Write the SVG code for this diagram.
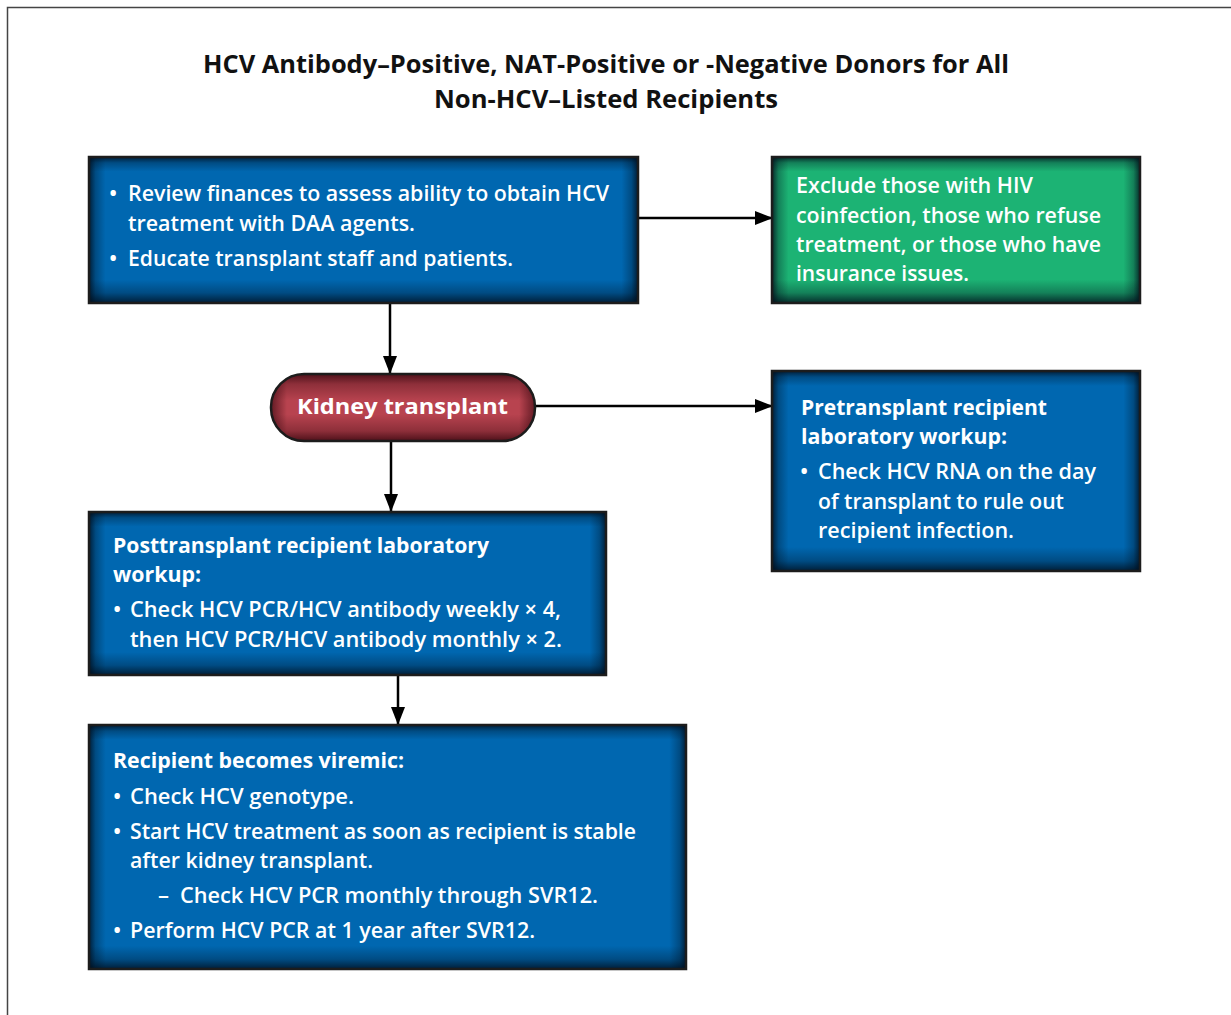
<svg xmlns="http://www.w3.org/2000/svg" width="1231" height="1015" viewBox="0 0 1231 1015">
<defs>
<style>
.t{font-family:"Open Sans","Liberation Sans",sans-serif;font-weight:600;font-size:22px;fill:#fff}
.b{font-family:"Open Sans","Liberation Sans",sans-serif;font-weight:700;font-size:22px;fill:#fff}
.title{font-family:"Open Sans","Liberation Sans",sans-serif;font-weight:700;font-size:25px;fill:#111;text-anchor:middle}
.edge{fill:none;stroke:#1c1c1c;stroke-width:2.5}
.blue{fill:#0067b0}
.green{fill:#1cb374}
.red{fill:#b8434f}
.conn{stroke:#000;stroke-width:2.5;fill:none}
.s0{stop-color:#000c1a;stop-opacity:0.8}
.s1{stop-color:#000c1a;stop-opacity:0.3}
.s2{stop-color:#000c1a;stop-opacity:0}
</style>
<!-- horizontal edge shades -->
<linearGradient id="h549" x1="0" y1="0" x2="1" y2="0"><stop offset="0" class="s0"/><stop offset="0.012" class="s1"/><stop offset="0.03" class="s2"/><stop offset="0.97" class="s2"/><stop offset="0.988" class="s1"/><stop offset="1" class="s0"/></linearGradient>
<linearGradient id="h368" x1="0" y1="0" x2="1" y2="0"><stop offset="0" class="s0"/><stop offset="0.018" class="s1"/><stop offset="0.045" class="s2"/><stop offset="0.955" class="s2"/><stop offset="0.982" class="s1"/><stop offset="1" class="s0"/></linearGradient>
<linearGradient id="h517" x1="0" y1="0" x2="1" y2="0"><stop offset="0" class="s0"/><stop offset="0.013" class="s1"/><stop offset="0.032" class="s2"/><stop offset="0.968" class="s2"/><stop offset="0.987" class="s1"/><stop offset="1" class="s0"/></linearGradient>
<linearGradient id="h597" x1="0" y1="0" x2="1" y2="0"><stop offset="0" class="s0"/><stop offset="0.011" class="s1"/><stop offset="0.028" class="s2"/><stop offset="0.972" class="s2"/><stop offset="0.989" class="s1"/><stop offset="1" class="s0"/></linearGradient>
<!-- vertical edge shades -->
<linearGradient id="v146" x1="0" y1="0" x2="0" y2="1"><stop offset="0" class="s0"/><stop offset="0.04" class="s1"/><stop offset="0.1" class="s2"/><stop offset="0.84" class="s2"/><stop offset="0.93" class="s1"/><stop offset="1" class="s0"/></linearGradient>
<linearGradient id="v200" x1="0" y1="0" x2="0" y2="1"><stop offset="0" class="s0"/><stop offset="0.03" class="s1"/><stop offset="0.075" class="s2"/><stop offset="0.88" class="s2"/><stop offset="0.95" class="s1"/><stop offset="1" class="s0"/></linearGradient>
<linearGradient id="v163" x1="0" y1="0" x2="0" y2="1"><stop offset="0" class="s0"/><stop offset="0.035" class="s1"/><stop offset="0.09" class="s2"/><stop offset="0.86" class="s2"/><stop offset="0.94" class="s1"/><stop offset="1" class="s0"/></linearGradient>
<linearGradient id="v244" x1="0" y1="0" x2="0" y2="1"><stop offset="0" class="s0"/><stop offset="0.025" class="s1"/><stop offset="0.06" class="s2"/><stop offset="0.905" class="s2"/><stop offset="0.96" class="s1"/><stop offset="1" class="s0"/></linearGradient>
<linearGradient id="vpill" x1="0" y1="0" x2="0" y2="1"><stop offset="0" stop-color="#2a0008" stop-opacity="0.75"/><stop offset="0.15" stop-color="#2a0008" stop-opacity="0.3"/><stop offset="0.4" stop-color="#2a0008" stop-opacity="0"/><stop offset="0.6" stop-color="#2a0008" stop-opacity="0"/><stop offset="0.85" stop-color="#2a0008" stop-opacity="0.3"/><stop offset="1" stop-color="#2a0008" stop-opacity="0.75"/></linearGradient>
<linearGradient id="hpill" x1="0" y1="0" x2="1" y2="0"><stop offset="0" stop-color="#2a0008" stop-opacity="0.6"/><stop offset="0.06" stop-color="#2a0008" stop-opacity="0"/><stop offset="0.94" stop-color="#2a0008" stop-opacity="0"/><stop offset="1" stop-color="#2a0008" stop-opacity="0.6"/></linearGradient>
<marker id="ah" markerUnits="userSpaceOnUse" markerWidth="18" markerHeight="14" refX="17" refY="7" orient="auto">
<path d="M0,0 L18,7 L0,14 Z" fill="#000"/>
</marker>
</defs>
<rect x="0" y="0" width="1231" height="1015" fill="#fff"/>
<rect x="7.5" y="7.5" width="1240" height="1030" fill="none" stroke="#444" stroke-width="1.5"/>

<g id="title">
<text class="title" x="606" y="73" textLength="806" lengthAdjust="spacingAndGlyphs">HCV Antibody–Positive, NAT-Positive or -Negative Donors for All</text>
<text class="title" x="606" y="108" textLength="344" lengthAdjust="spacingAndGlyphs">Non-HCV–Listed Recipients</text>
</g>

<g id="connectors">
<line class="conn" x1="638" y1="218" x2="772" y2="218" marker-end="url(#ah)"/>
<line class="conn" x1="390" y1="303" x2="390" y2="373" marker-end="url(#ah)"/>
<line class="conn" x1="535" y1="406" x2="772" y2="406" marker-end="url(#ah)"/>
<line class="conn" x1="391" y1="441" x2="391" y2="511" marker-end="url(#ah)"/>
<line class="conn" x1="398" y1="675" x2="398" y2="724" marker-end="url(#ah)"/>
</g>

<g id="node-review">
<rect class="blue" x="89" y="157" width="549" height="146"/>
<rect x="89" y="157" width="549" height="146" fill="url(#h549)"/>
<rect x="89" y="157" width="549" height="146" fill="url(#v146)"/>
<rect class="edge" x="89" y="157" width="549" height="146"/>
<text class="t" x="109" y="201">•</text>
<text class="t" x="128" y="201" textLength="481" lengthAdjust="spacingAndGlyphs">Review finances to assess ability to obtain HCV</text>
<text class="t" x="128" y="231" textLength="287" lengthAdjust="spacingAndGlyphs">treatment with DAA agents.</text>
<text class="t" x="109" y="266">•</text>
<text class="t" x="128" y="266" textLength="385" lengthAdjust="spacingAndGlyphs">Educate transplant staff and patients.</text>
</g>

<g id="node-exclude">
<rect class="green" x="772" y="157" width="368" height="146"/>
<rect x="772" y="157" width="368" height="146" fill="url(#h368)"/>
<rect x="772" y="157" width="368" height="146" fill="url(#v146)"/>
<rect class="edge" x="772" y="157" width="368" height="146"/>
<text class="t" x="796" y="193" textLength="237" lengthAdjust="spacingAndGlyphs">Exclude those with HIV</text>
<text class="t" x="796" y="223" textLength="305" lengthAdjust="spacingAndGlyphs">coinfection, those who refuse</text>
<text class="t" x="796" y="252" textLength="305" lengthAdjust="spacingAndGlyphs">treatment, or those who have</text>
<text class="t" x="796" y="281" textLength="173" lengthAdjust="spacingAndGlyphs">insurance issues.</text>
</g>

<g id="node-kidney">
<rect class="red" x="271" y="374" width="264" height="67" rx="33" ry="33"/>
<rect x="271" y="374" width="264" height="67" rx="33" ry="33" fill="url(#hpill)"/>
<rect x="271" y="374" width="264" height="67" rx="33" ry="33" fill="url(#vpill)"/>
<rect class="edge" x="271" y="374" width="264" height="67" rx="33" ry="33"/>
<text class="b" x="297" y="414" font-size="24" textLength="211" lengthAdjust="spacingAndGlyphs">Kidney transplant</text>
</g>

<g id="node-pretransplant">
<rect class="blue" x="772" y="371" width="368" height="200"/>
<rect x="772" y="371" width="368" height="200" fill="url(#h368)"/>
<rect x="772" y="371" width="368" height="200" fill="url(#v200)"/>
<rect class="edge" x="772" y="371" width="368" height="200"/>
<text class="b" x="801" y="415" textLength="246" lengthAdjust="spacingAndGlyphs">Pretransplant recipient</text>
<text class="b" x="801" y="444" textLength="206" lengthAdjust="spacingAndGlyphs">laboratory workup:</text>
<text class="t" x="800" y="479">•</text>
<text class="t" x="818" y="479" textLength="278" lengthAdjust="spacingAndGlyphs">Check HCV RNA on the day</text>
<text class="t" x="818" y="509" textLength="246" lengthAdjust="spacingAndGlyphs">of transplant to rule out</text>
<text class="t" x="818" y="538" textLength="196" lengthAdjust="spacingAndGlyphs">recipient infection.</text>
</g>

<g id="node-posttransplant">
<rect class="blue" x="89" y="512" width="517" height="163"/>
<rect x="89" y="512" width="517" height="163" fill="url(#h517)"/>
<rect x="89" y="512" width="517" height="163" fill="url(#v163)"/>
<rect class="edge" x="89" y="512" width="517" height="163"/>
<text class="b" x="113" y="553" textLength="376" lengthAdjust="spacingAndGlyphs">Posttransplant recipient laboratory</text>
<text class="b" x="113" y="582" textLength="88" lengthAdjust="spacingAndGlyphs">workup:</text>
<text class="t" x="113" y="617">•</text>
<text class="t" x="130" y="617" textLength="431" lengthAdjust="spacingAndGlyphs">Check HCV PCR/HCV antibody weekly × 4,</text>
<text class="t" x="130" y="647" textLength="432" lengthAdjust="spacingAndGlyphs">then HCV PCR/HCV antibody monthly × 2.</text>
</g>

<g id="node-viremic">
<rect class="blue" x="89" y="725" width="597" height="244"/>
<rect x="89" y="725" width="597" height="244" fill="url(#h597)"/>
<rect x="89" y="725" width="597" height="244" fill="url(#v244)"/>
<rect class="edge" x="89" y="725" width="597" height="244"/>
<text class="b" x="113" y="768" textLength="291" lengthAdjust="spacingAndGlyphs">Recipient becomes viremic:</text>
<text class="t" x="113" y="804">•</text>
<text class="t" x="130" y="804" textLength="224" lengthAdjust="spacingAndGlyphs">Check HCV genotype.</text>
<text class="t" x="113" y="839">•</text>
<text class="t" x="130" y="839" textLength="506" lengthAdjust="spacingAndGlyphs">Start HCV treatment as soon as recipient is stable</text>
<text class="t" x="130" y="868" textLength="243" lengthAdjust="spacingAndGlyphs">after kidney transplant.</text>
<text class="t" x="158" y="903">–</text>
<text class="t" x="180" y="903" textLength="418" lengthAdjust="spacingAndGlyphs">Check HCV PCR monthly through SVR12.</text>
<text class="t" x="113" y="938">•</text>
<text class="t" x="130" y="938" textLength="405" lengthAdjust="spacingAndGlyphs">Perform HCV PCR at 1 year after SVR12.</text>
</g>
</svg>
